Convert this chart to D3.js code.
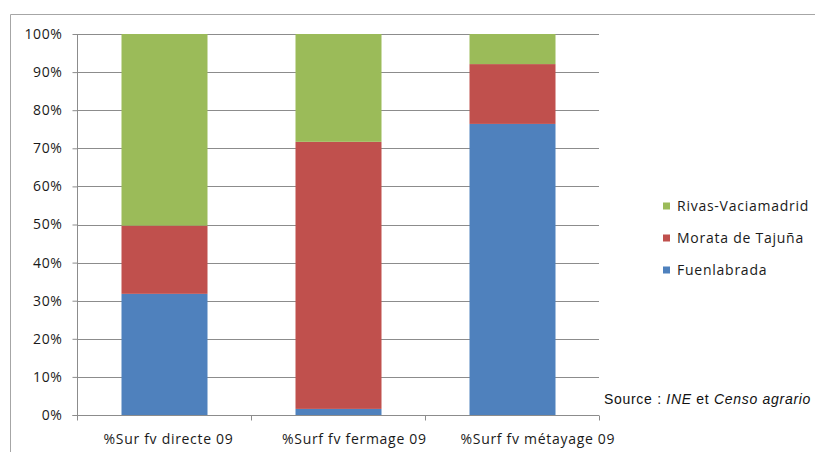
<!DOCTYPE html>
<html><head><meta charset="utf-8">
<script src="https://cdn.jsdelivr.net/npm/d3@7"></script>
<style>body{margin:0;background:#fff}svg{display:block}</style>
</head><body>
<script>
const categories = ["%Sur fv directe 09", "%Surf fv fermage 09", "%Surf fv métayage 09"];
const seriesNames = ["Fuenlabrada", "Morata de Tajuña", "Rivas-Vaciamadrid"];
const fuenlabrada = [31.8, 1.6, 76.4];
const morata = [17.9, 70.1, 15.7];
const rivas = [50.3, 28.3, 7.9];
const colors = ["#4F81BD", "#C0504D", "#9BBB59"];
const yTicks = [0,10,20,30,40,50,60,70,80,90,100];

const W = 815, H = 452;
const FONT = "'Open Sans', sans-serif";
const svg = d3.select("body").append("svg").attr("width", W).attr("height", H);
svg.append("rect").attr("width", W).attr("height", H).attr("fill", "#fff");
svg.append("path").attr("d", `M10.5,${H} V14.5 H${W}`).attr("fill","none").attr("stroke","#a6a6a6").attr("stroke-width",1);

const m = {left: 77, right: 599, top: 34, bottom: 415};
const x = d3.scaleBand().domain(categories).range([m.left, m.right]).paddingInner(0.5).paddingOuter(0.25);
const y = d3.scaleLinear().domain([0, 100]).range([m.bottom, m.top]);

svg.append("g").selectAll("line").data(yTicks.filter(d=>d>0)).join("line")
  .attr("x1", m.left).attr("x2", m.right)
  .attr("y1", d=>Math.round(y(d))+0.5).attr("y2", d=>Math.round(y(d))+0.5)
  .attr("stroke", "#8c8c8c").attr("stroke-width", 1);

const rows = categories.map((c,i)=>({cat:c, Fuenlabrada:fuenlabrada[i], "Morata de Tajuña":morata[i], "Rivas-Vaciamadrid":rivas[i]}));
const stack = d3.stack().keys(seriesNames)(rows);
svg.append("g").selectAll("g").data(stack).join("g").attr("fill", (d,i)=>colors[i])
  .selectAll("rect").data(d=>d).join("rect")
  .attr("x", d=>x(d.data.cat)+1).attr("width", x.bandwidth()-1)
  .attr("y", d=>y(Math.min(d[1],100))).attr("height", d=>y(d[0])-y(Math.min(d[1],100)));

const yAxis = d3.axisLeft(y).tickValues(yTicks).tickFormat(d=>d+"%").tickSize(5).tickPadding(10);
const gy = svg.append("g").attr("transform", `translate(${m.left+0.5},0)`).call(yAxis);
gy.select(".domain").attr("stroke","#8c8c8c").attr("d", `M-5,${m.bottom+0.5}H0V${m.top}`);
gy.selectAll(".tick line").attr("stroke","#8c8c8c");
gy.selectAll(".tick text").attr("font-family",FONT).attr("font-size",14).attr("letter-spacing",0.6).attr("fill","#1a1a1a");

const gx = svg.append("g").attr("transform", `translate(0,${m.bottom+0.5})`);
gx.append("line").attr("x1", m.left).attr("x2", m.right).attr("stroke","#8c8c8c");
const step = (m.right-m.left)/3;
gx.selectAll("line.tk").data(d3.range(4)).join("line").attr("class","tk")
  .attr("x1", i=>Math.round(m.left+i*step)+0.5).attr("x2", i=>Math.round(m.left+i*step)+0.5)
  .attr("y1",0).attr("y2",5).attr("stroke","#8c8c8c");
gx.selectAll("text").data(categories).join("text")
  .attr("x", (d,i)=>x(d) - 17 + i*4.5)
  .attr("y", 28)
  .attr("text-anchor","start").attr("font-family",FONT).attr("font-size",14).attr("letter-spacing",0.7).attr("fill","#1a1a1a")
  .text(d=>d);

const legendOrder = [2,1,0];
const lg = svg.append("g");
legendOrder.forEach((si, k)=>{
  const cy = 206 + k*32;
  lg.append("rect").attr("x",663).attr("y",cy-3.5).attr("width",7).attr("height",7).attr("fill",colors[si]);
  lg.append("text").attr("x",677).attr("y",cy+5).attr("font-family",FONT).attr("font-size",14).attr("letter-spacing",0.75).attr("fill","#1a1a1a").text(seriesNames[si]);
});

const src = svg.append("text").attr("x",604).attr("y",404).attr("font-family","'Liberation Sans', Arial, sans-serif").attr("font-size",14).attr("letter-spacing",0.7).attr("fill","#111");
src.append("tspan").text("Source : ");
src.append("tspan").attr("font-style","italic").text("INE");
src.append("tspan").text(" et ");
src.append("tspan").attr("font-style","italic").text("Censo agrario");
</script>
</body></html>
